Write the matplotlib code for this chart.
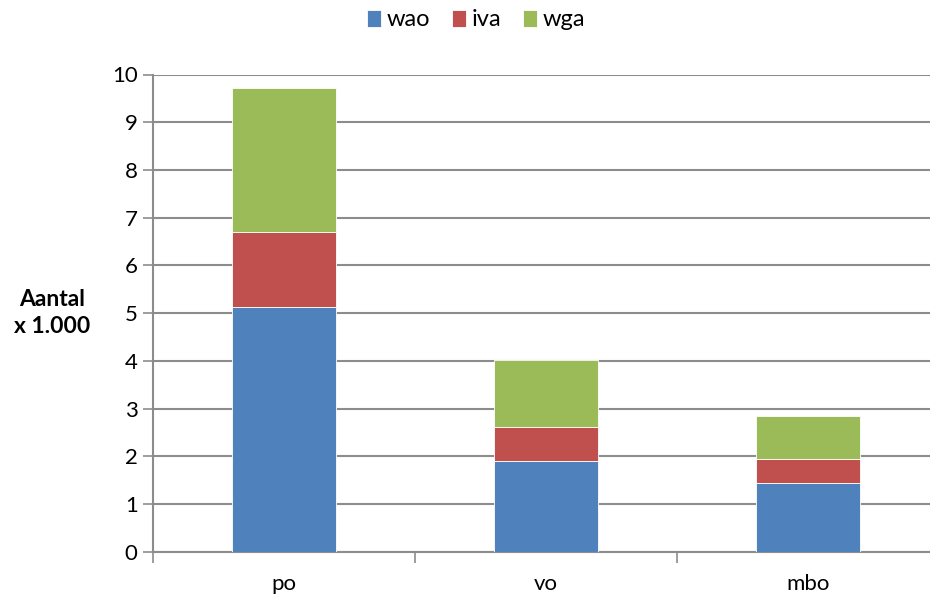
import numpy as np
import matplotlib
matplotlib.use('Agg')
import matplotlib.pyplot as plt

plt.rcParams['font.family'] = ['Lato', 'DejaVu Sans']

categories = ['po', 'vo', 'mbo']
wao = [5.13, 1.90, 1.45]
iva = [1.56, 0.72, 0.49]
wga = [3.03, 1.40, 0.90]
series = [('wao', wao, '#4F81BD'), ('iva', iva, '#C0504D'), ('wga', wga, '#9BBB59')]

fig = plt.figure(figsize=(9.3, 5.97), dpi=100)
ax = fig.add_axes([153/930, (597-551.7)/597, (939-153)/930, (551.7-74.5)/597])

x = np.arange(len(categories))
bottom = np.zeros(len(categories))
for name, vals, col in series:
    ax.bar(x, vals, 0.4, bottom=bottom, color=col, label=name, zorder=3,
           edgecolor='white', linewidth=0.6)
    bottom += np.array(vals)

ax.set_xlim(-0.5, 2.5)
ax.set_ylim(0, 10)
ax.set_yticks(range(0, 11))
ax.yaxis.grid(True, color='#8c8c8c', linewidth=1.5, zorder=0)
ax.set_axisbelow(True)

# x ticks sit between the categories, labels at the centres
ax.set_xticks([-0.5, 0.5, 1.5, 2.5])
ax.set_xticklabels([])
ax.set_xticks(x, minor=True)
ax.set_xticklabels(categories, minor=True)
ax.tick_params(axis='x', which='major', length=8, width=1.2, color='#8c8c8c', direction='out')
ax.tick_params(axis='x', which='minor', length=0, pad=16, labelsize=16)
ax.tick_params(axis='y', length=7, width=1.2, color='#8c8c8c', labelsize=16, pad=4)

for s in ['top', 'right']:
    ax.spines[s].set_visible(False)
for s in ['left', 'bottom']:
    ax.spines[s].set_color('#8c8c8c')
    ax.spines[s].set_linewidth(1.5)

fig.text(52/930, 1-313/597, 'Aantal\nx 1.000', ha='center', va='center',
         fontsize=16.5, fontweight='bold', linespacing=1.3)

fig.legend(loc='center', bbox_to_anchor=(476/930, 1-20/597), ncol=3, frameon=False,
           fontsize=17, handlelength=0.6, handleheight=0.7, handletextpad=0.25,
           columnspacing=0.9)

fig.savefig('out.png', dpi=100)
